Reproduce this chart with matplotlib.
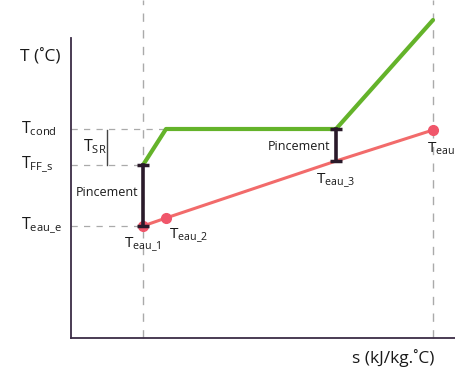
import matplotlib
matplotlib.use('Agg')
import matplotlib.pyplot as plt

plt.rcParams['font.family'] = ['Open Sans', 'DejaVu Sans']
plt.rcParams['mathtext.fontset'] = 'custom'
plt.rcParams['mathtext.rm'] = 'Open Sans'
plt.rcParams['mathtext.it'] = 'Open Sans'

# courbe du fluide frigorifique (vert) et de l'eau (rouge)
s_ff = [72, 95, 265, 362]
t_ff = [173, 209, 209, 318]
s_eau = [72, 95, 265, 362]
t_eau = [112, 120, 177, 208]
eau_labels = ['eau\\_1', 'eau\\_2', 'eau\\_3', 'eau\\_4']

# niveaux de temperature sur l'axe
niveaux = ['cond', 'FF\\_s', 'eau\\_e']
t_niveaux = [209, 173, 112]
s_fin = [95, 72, 72]

fig = plt.figure(figsize=(4.56, 3.70), dpi=100)
ax = fig.add_axes([71/456, 32/370, 385/456, 300/370])
ax.set_xlim(0, 385)
ax.set_ylim(0, 300)

for sp in ['top', 'right']:
    ax.spines[sp].set_visible(False)
for sp in ['left', 'bottom']:
    ax.spines[sp].set_color('#3b2c45')
    ax.spines[sp].set_linewidth(1.3)
ax.set_xticks([])
ax.set_yticks([])

# lignes verticales pointillees
for xv in [s_eau[0], s_eau[-1]]:
    ax.plot([xv, xv], [0, 338], color='#aaaaaa', lw=1, ls=(0, (6, 6)), clip_on=False)

# lignes horizontales vers l'axe
for t, xe, nom in zip(t_niveaux, s_fin, niveaux):
    ax.plot([0, xe], [t, t], color='#aaaaaa', lw=0.9, ls=(0, (5, 5)))
    ax.text(-50, t, r'$\mathregular{T_{%s}}$' % nom, fontsize=11.5, ha='left',
            va='center', color='#1a1a1a')

ax.plot(s_ff, t_ff, color='#64b32a', lw=3, clip_on=False, solid_capstyle='round')
ax.plot(s_eau, t_eau, color='#f26b6b', lw=2.2, clip_on=False)
ax.plot(s_eau[:2] + s_eau[3:], t_eau[:2] + t_eau[3:], 'o', color='#f0566a',
        ms=7, clip_on=False, zorder=4)

# pincements
ax.plot([s_eau[0], s_eau[0]], [t_eau[0], t_ff[0]], color='#2a1a2a', lw=2.6,
        marker='_', ms=8, mew=2.5, zorder=5)
ax.plot([s_eau[2], s_eau[2]], [t_eau[2], t_ff[2]], color='#2a1a2a', lw=2.6,
        marker='_', ms=8, mew=2.5, zorder=5)
ax.text(36, 145, 'Pincement', fontsize=9, ha='center', va='center', color='#1a1a1a')
ax.text(228, 191, 'Pincement', fontsize=9, ha='center', va='center', color='#1a1a1a')

# surchauffe
ax.plot([36, 36], [173, 208], color='#444444', lw=1)
ax.text(12, 191, r'$\mathregular{T_{SR}}$', fontsize=11.5, ha='left', va='center',
        color='#1a1a1a')

offs = [(0, -19), (23, -18), (0, -20), (14, -20)]
for x, y, lab, (dx, dy) in zip(s_eau, t_eau, eau_labels, offs):
    ax.text(x + dx, y + dy, r'$\mathregular{T_{%s}}$' % lab, fontsize=11,
            ha='center', va='center', color='#1a1a1a', clip_on=False)

fig.text(20/456, 1 - 57/370, 'T (˚C)', fontsize=12.5, ha='left', va='center',
         color='#1a1a1a')
fig.text(393/456, 1 - 358/370, 's (kJ/kg.˚C)', fontsize=12.5, ha='center',
         va='center', color='#1a1a1a')

fig.savefig('out.png', dpi=100)
